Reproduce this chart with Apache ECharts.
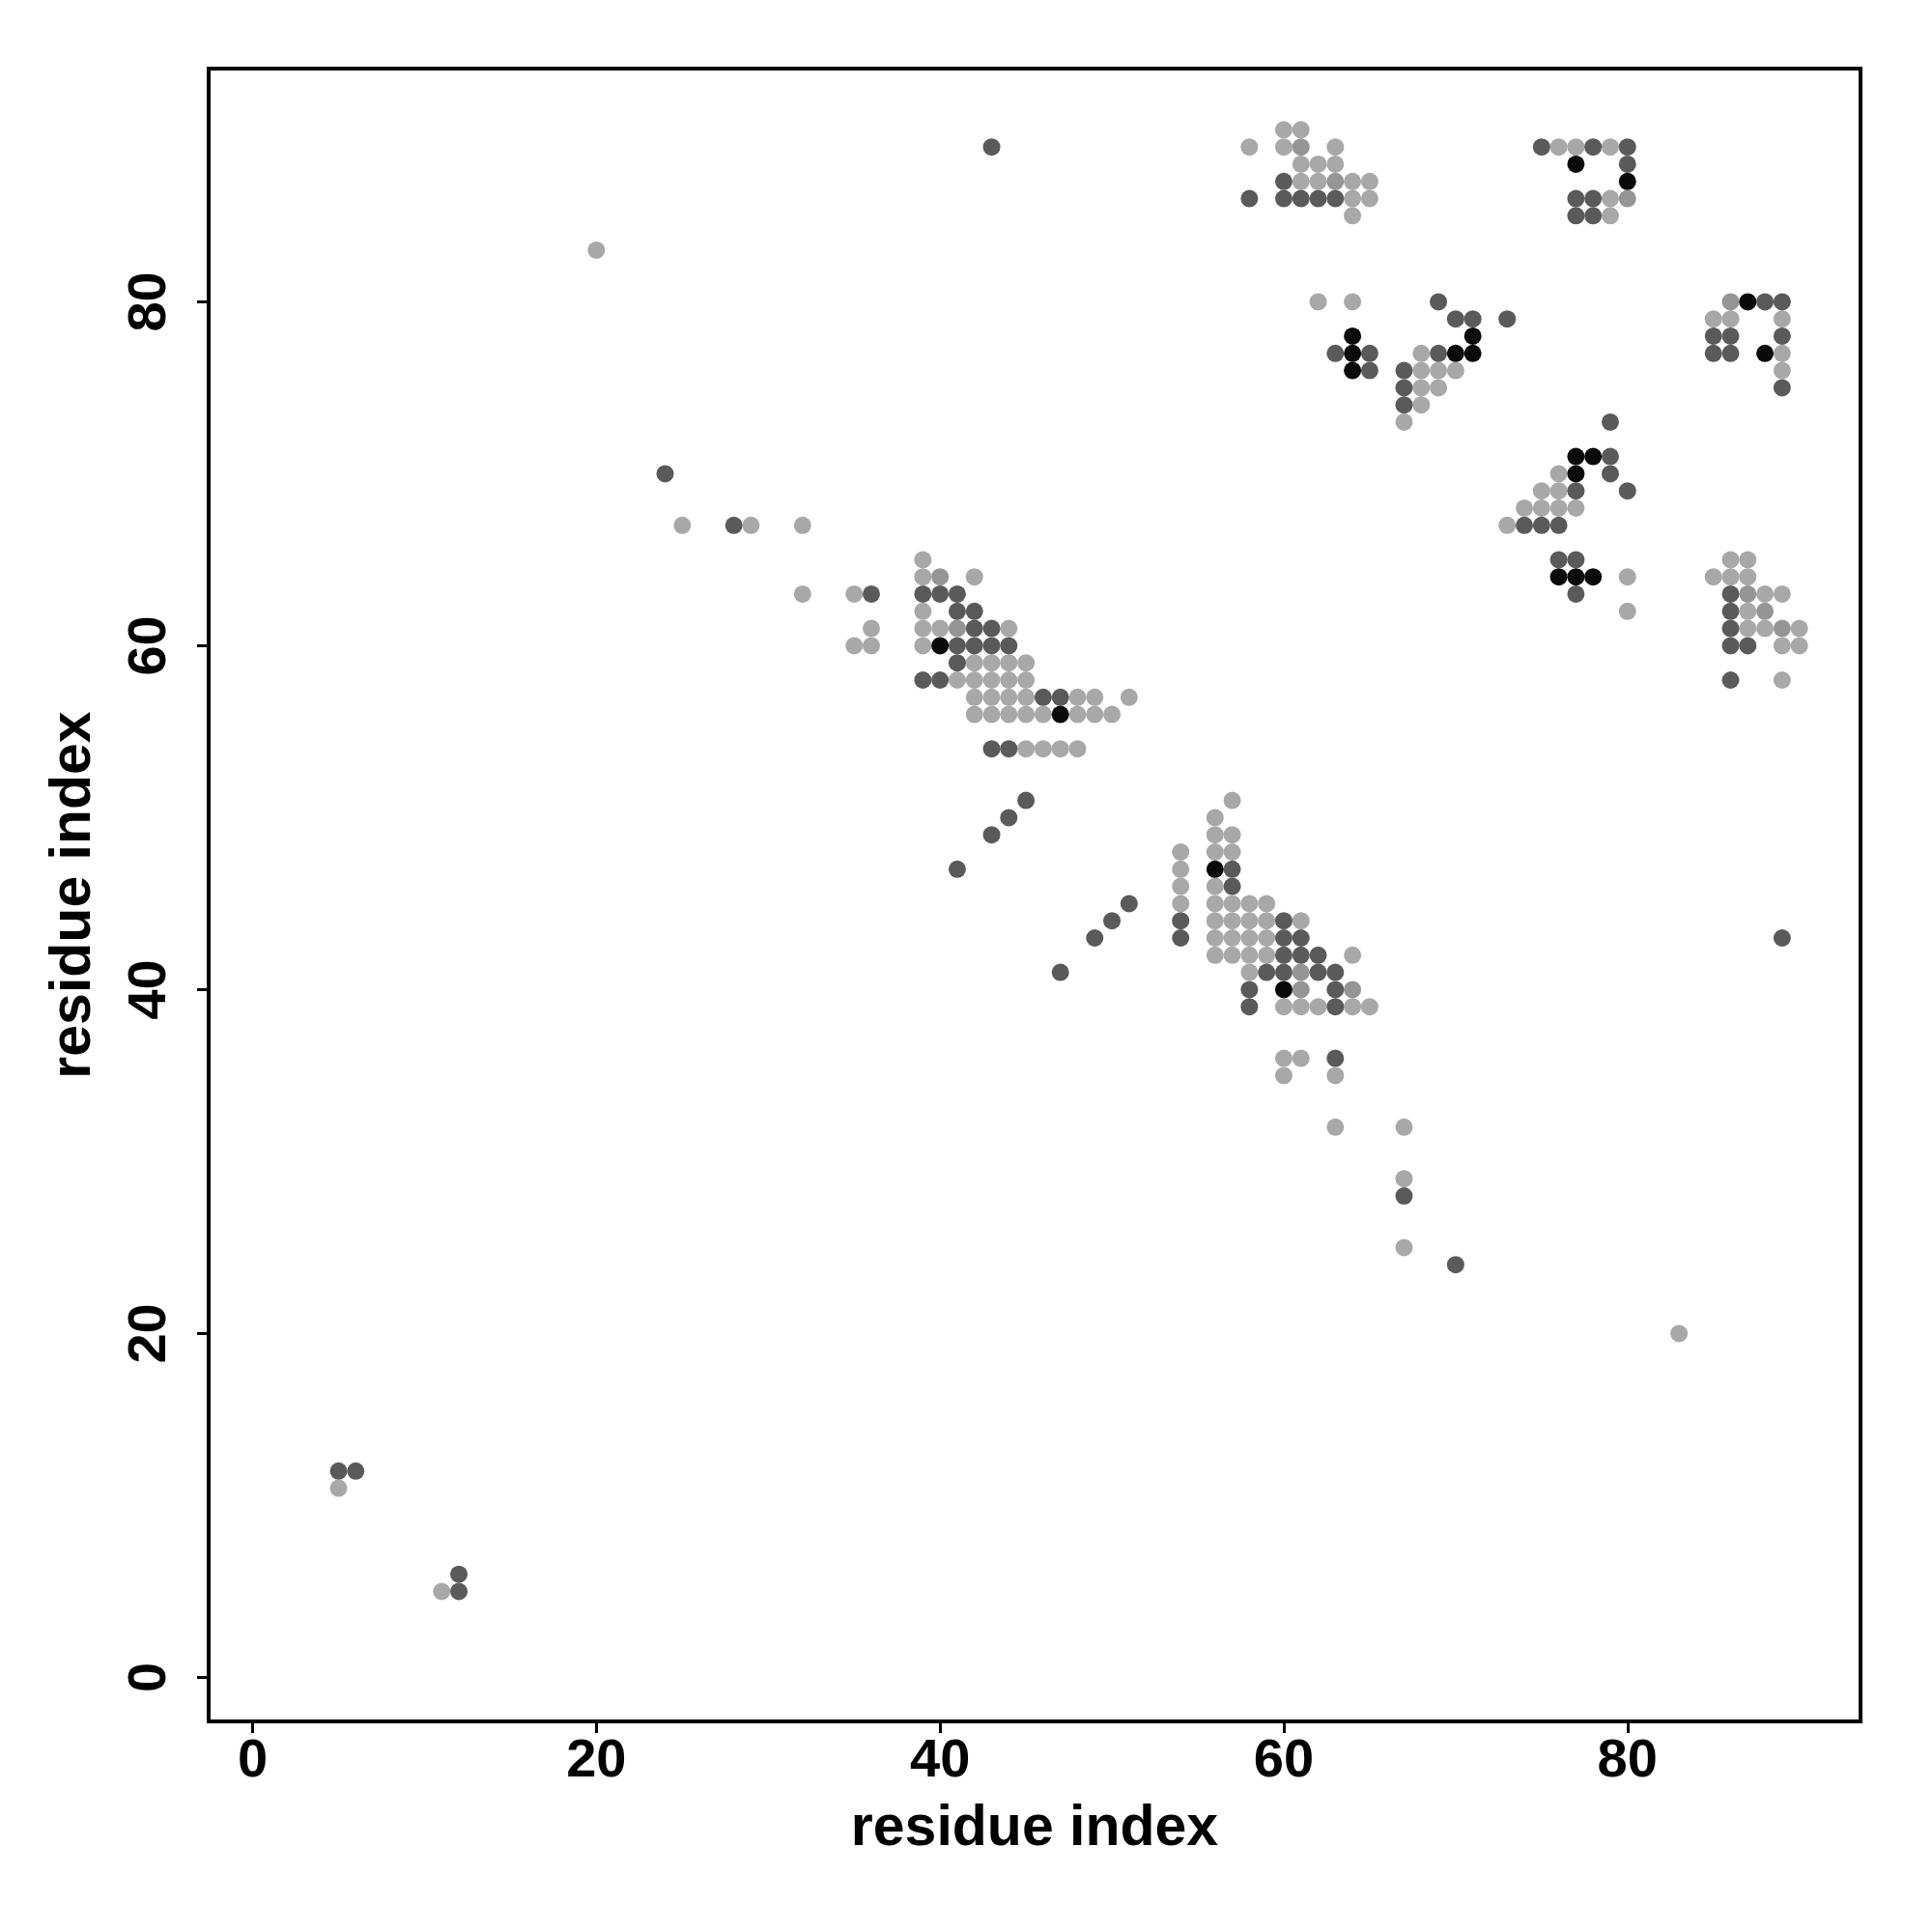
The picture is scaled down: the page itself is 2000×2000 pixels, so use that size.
<!DOCTYPE html>
<html><head><meta charset="utf-8">
<script src="https://cdn.jsdelivr.net/npm/echarts@6/dist/echarts.min.js"></script>
<style>html,body{margin:0;padding:0;background:#fff}#c{width:2000px;height:2000px}</style>
</head><body><div id="c"></div>
<script>
const tickValues = [0, 20, 40, 60, 80];
const axisTitle = "residue index";

const lightPts = [
 [60,90],[61,90],[58,89],[60,89],[63,89],[61,88],[62,88],[63,88],[61,87],[62,87],[64,87],[65,87],[64,86],[65,86],[64,85],
 [76,89],[77,89],[79,89],[79,86],[79,85],
 [62,80],[64,80],[68,77],[68,76],[69,76],[70,76],[68,75],[69,75],[68,74],[67,73],
 [85,79],[86,79],[89,79],[89,77],[89,76],[86,65],[87,65],[85,64],[86,64],[87,64],[88,63],[89,63],[87,62],[87,61],[88,61],[90,61],[89,60],[90,60],[89,58],
 [76,70],[75,69],[76,69],[74,68],[75,68],[76,68],[77,68],[73,67],[80,64],[80,62],
 [39,65],[39,64],[42,64],[39,62],[39,61],[40,61],[44,61],[39,60],[42,59],[43,59],[44,59],[45,59],[41,58],[42,58],[43,58],[44,58],[45,58],
 [42,57],[43,57],[44,57],[45,57],[48,57],[49,57],[51,57],[42,56],[43,56],[44,56],[45,56],[46,56],[48,56],[49,56],[50,56],[45,54],[46,54],[47,54],[48,54],
 [57,51],[56,50],[56,49],[57,49],[54,48],[56,48],[57,48],[54,47],[54,46],[56,46],[54,45],[56,45],[57,45],[58,45],[59,45],
 [56,44],[57,44],[58,44],[59,44],[61,44],[56,43],[57,43],[58,43],[59,43],[56,42],[57,42],[58,42],[59,42],[64,42],[58,41],
 [60,39],[61,39],[62,39],[64,39],[65,39],
 [60,36],[61,36],[60,35],[63,35],[63,32],[67,32],[67,29],[67,25],
 [25,67],[29,67],[32,67],[32,63],[35,63],[36,61],[35,60],[36,60],
 [5,11],[11,5],[20,83],[83,20]
];
const mediumPts = [
 [61,89],[63,87],[80,86],[86,80],[87,63],[88,62],[89,61],[40,64],[41,61],[61,41],[61,40],[64,40]
];
const darkPts = [
 [60,87],[58,86],[60,86],[61,86],[62,86],[63,86],
 [75,89],[78,89],[80,89],[80,88],[77,86],[78,86],[77,85],[78,85],
 [69,80],[70,79],[71,79],[73,79],[63,77],[65,77],[69,77],[65,76],[67,76],[67,75],[67,74],
 [88,80],[89,80],[85,78],[86,78],[89,78],[85,77],[86,77],[89,75],[86,63],[86,62],[86,61],[86,60],[87,60],[86,58],
 [79,73],[79,71],[79,70],[77,69],[80,69],[74,67],[75,67],[76,67],[76,65],[77,65],[77,63],
 [39,63],[40,63],[41,63],[41,62],[42,62],[42,61],[43,61],[41,60],[42,60],[43,60],[44,60],[41,59],[39,58],[40,58],[46,57],[47,57],[43,54],[44,54],
 [57,47],[57,46],[54,44],[60,44],[54,43],[60,43],[61,43],[60,42],[61,42],[62,42],[59,41],[60,41],[62,41],[63,41],[58,40],[63,40],[58,39],[63,39],
 [45,51],[44,50],[43,49],[41,47],[51,45],[50,44],[49,43],[47,41],
 [63,36],[67,28],[70,24],
 [24,70],[28,67],[36,63],
 [5,12],[6,12],[12,6],[12,5],
 [43,89],[89,43]
];
const blackPts = [
 [77,88],[80,87],[64,78],[71,78],[64,77],[70,77],[71,77],[64,76],[87,80],[88,77],
 [77,71],[78,71],[77,70],[76,64],[77,64],[78,64],[40,60],[47,56],[56,47],[60,40]
];

const FONT = "'Liberation Sans', Arial, Helvetica, sans-serif";
const chart = echarts.init(document.getElementById('c'), null, {renderer: 'canvas'});
function axis(isY) {
  return {
    type: 'value', min: -2.56, max: 93.56,
    position: isY ? 'left' : 'bottom',
    name: axisTitle, nameLocation: 'middle',
    nameGap: isY ? 139 : 112,
    nameTextStyle: {fontFamily: FONT, fontWeight: 'bold', fontSize: 59, color: '#000', verticalAlign: 'middle', align: 'center'},
    axisLine: {show: false, onZero: false},
    splitLine: {show: false},
    axisTick: {show: true, length: 12, inside: false, lineStyle: {color: '#000', width: 3}, customValues: tickValues},
    axisLabel: {show: true, customValues: tickValues, rotate: isY ? 90 : 0, margin: isY ? 32 : 14,
      fontFamily: FONT, fontWeight: 'bold', fontSize: 56, color: '#000'}
  };
}
function sc(data, color) {
  return {type: 'scatter', data: data, symbol: 'circle', symbolSize: 18,
    itemStyle: {color: color, opacity: 1}, silent: true, animation: false};
}
chart.setOption({
  animation: false,
  backgroundColor: '#fff',
  grid: {left: 216, top: 71, right: 74, bottom: 218, show: true, borderColor: '#000', borderWidth: 4, containLabel: false},
  xAxis: axis(false),
  yAxis: axis(true),
  series: [sc(lightPts, '#a8a8a8'), sc(mediumPts, '#959595'), sc(darkPts, '#5a5a5a'), sc(blackPts, '#0a0a0a')]
});
</script></body></html>
